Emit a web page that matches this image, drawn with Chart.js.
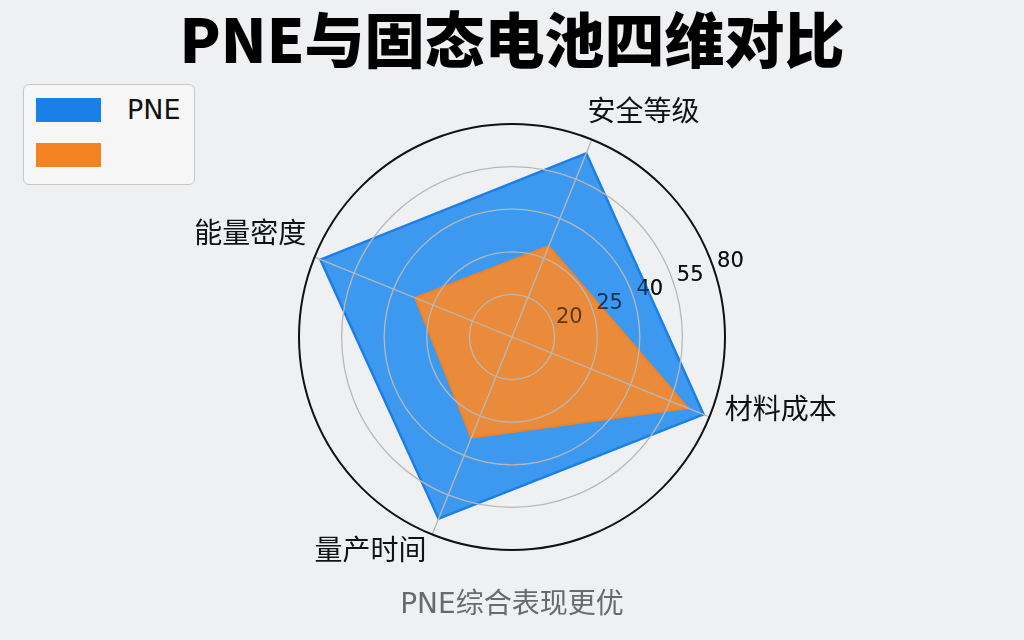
<!DOCTYPE html>
<html><head><meta charset="utf-8">
<script src="https://cdn.jsdelivr.net/npm/chart.js@4.4.0/dist/chart.umd.min.js"></script>
<style>
html,body{margin:0;padding:0;background:#eff0f2;}
#wrap{position:relative;width:1024px;height:640px;overflow:hidden;}
canvas{display:block;}
#legend{position:absolute;left:23px;top:84px;width:170px;height:99px;border:1.5px solid #c6c7c9;border-radius:6px;background:#f6f6f7;font-family:"DejaVu Sans","Noto Sans CJK SC",sans-serif;}
.item{position:absolute;left:12px;height:25px;display:flex;align-items:center;}
.sw{width:65px;height:24px;flex:none;}
.lab{margin-left:26px;font-size:27px;color:#111;line-height:25px;white-space:nowrap;}
</style></head>
<body><div id="wrap"><canvas id="c" width="1024" height="640"></canvas><div id="legend"></div></div>
<script>
// ---- data ----
const TITLE = 'PNE与固态电池四维对比';
const SUBTITLE = 'PNE综合表现更优';
const categories = ['安全等级', '材料成本', '量产时间', '能量密度'];
const seriesNames = ['PNE', ''];
const pneValues = [93, 97, 92, 97];
const solidValues = [46, 89, 51, 49];
const tickValues = [20, 40, 60, 80, 100];
const tickLabels = ['20', '25', '40', '55', '80'];

// ---- styles ----
const LABEL_FONT = '28px "DejaVu Sans", "Noto Sans CJK SC", sans-serif';
const TICK_FONT = '21px "DejaVu Sans", sans-serif';
const TICK_ANGLE = 71;          // degrees clockwise from top
const labelNudge = [[-8, -3], [6, -23], [-2, -5], [1, -4]];

function drawTicks(chart, color) {
  const s = chart.scales.r, ctx = chart.ctx;
  const a = (TICK_ANGLE - 90) * Math.PI / 180;
  ctx.save();
  ctx.font = TICK_FONT;
  ctx.fillStyle = color;
  ctx.textAlign = 'center';
  ctx.textBaseline = 'middle';
  s.ticks.forEach(t => {
    const k = tickValues.indexOf(t.value);
    if (k < 0) return;
    const r = s.getDistanceFromCenterForValue(t.value) + 18;
    ctx.fillText(tickLabels[k], s.xCenter + Math.cos(a) * r, s.yCenter + Math.sin(a) * r);
  });
  ctx.restore();
}

const ticksPlugin = {
  id: 'ticksUnder',
  beforeDatasetsDraw(chart) { drawTicks(chart, '#222'); }
};

const gridPlugin = {
  id: 'gridOver',
  afterDatasetsDraw(chart) {
    const s = chart.scales.r, ctx = chart.ctx;
    drawTicks(chart, 'rgba(0,0,0,0.6)');
    ctx.save();
    ctx.strokeStyle = '#b8b8b8';
    ctx.lineWidth = 1.3;
    for (let i = 0; i < chart.data.labels.length; i++) {
      const p = s.getPointPosition(i, s.drawingArea);
      ctx.beginPath();
      ctx.moveTo(s.xCenter, s.yCenter);
      ctx.lineTo(p.x, p.y);
      ctx.stroke();
    }
    s.ticks.forEach(t => {
      if (t.value <= s.min) return;
      const r = s.getDistanceFromCenterForValue(t.value);
      const outer = t.value >= s.max;
      ctx.strokeStyle = outer ? '#111' : '#b8b8b8';
      ctx.lineWidth = outer ? 2 : 1.3;
      ctx.beginPath();
      ctx.arc(s.xCenter, s.yCenter, r, 0, Math.PI * 2);
      ctx.stroke();
    });
    ctx.font = LABEL_FONT;
    ctx.fillStyle = '#111';
    ctx.textBaseline = 'middle';
    chart.data.labels.forEach((lab, i) => {
      const p = s.getPointPosition(i, s.drawingArea + 10);
      let deg = s.getIndexAngle(i) * 180 / Math.PI;
      deg = ((deg % 360) + 360) % 360;
      let align = 'center';
      if (deg > 2 && deg < 178) align = 'left';
      else if (deg > 182 && deg < 358) align = 'right';
      const half = 14;
      const y = (deg > 90 && deg < 270) ? p.y + half : p.y - half;
      ctx.textAlign = align;
      ctx.fillText(lab, p.x + labelNudge[i][0], y + labelNudge[i][1]);
    });
    ctx.restore();
  }
};

const chart = new Chart(document.getElementById('c'), {
  type: 'radar',
  data: {
    labels: categories,
    datasets: [
      {
        label: seriesNames[0], data: pneValues, order: 2,
        backgroundColor: 'rgba(36,140,238,0.88)', borderColor: '#1a7fe6', borderWidth: 2.5,
        pointRadius: 0, fill: 'origin'
      },
      {
        label: seriesNames[1], data: solidValues, order: 1,
        backgroundColor: 'rgba(246,138,44,0.93)', borderColor: '#f58220', borderWidth: 2,
        pointRadius: 0, fill: 'origin'
      }
    ]
  },
  options: {
    responsive: false,
    animation: false,
    devicePixelRatio: 1,
    layout: { padding: 0 },
    scales: {
      r: {
        min: 0, max: 100, startAngle: 22,
        ticks: { display: false, stepSize: 20 },
        grid: { display: false },
        angleLines: { display: false },
        pointLabels: { display: false }
      }
    },
    plugins: {
      legend: { display: false },
      tooltip: { enabled: false },
      title: {
        display: true, text: TITLE, color: '#000',
        font: { family: '"Noto Sans CJK SC", sans-serif', size: 60, weight: 900, lineHeight: 1.2 },
        padding: { top: 4, bottom: 48 }
      },
      subtitle: {
        display: true, position: 'bottom', text: SUBTITLE, color: '#6a6a6a',
        font: { family: '"DejaVu Sans", "Noto Sans CJK SC", sans-serif', size: 28, lineHeight: 1.2 },
        padding: { top: 39, bottom: 17.4 }
      }
    }
  },
  plugins: [ticksPlugin, gridPlugin]
});

const leg = document.getElementById('legend');
const tops = [12, 57];
chart.data.datasets.forEach((ds, i) => {
  const it = document.createElement('div');
  it.className = 'item';
  it.style.top = tops[i] + 'px';
  const sw = document.createElement('div');
  sw.className = 'sw';
  sw.style.background = ds.borderColor;
  const lb = document.createElement('span');
  lb.className = 'lab';
  lb.textContent = ds.label;
  it.appendChild(sw); it.appendChild(lb);
  leg.appendChild(it);
});
</script>
</body></html>
